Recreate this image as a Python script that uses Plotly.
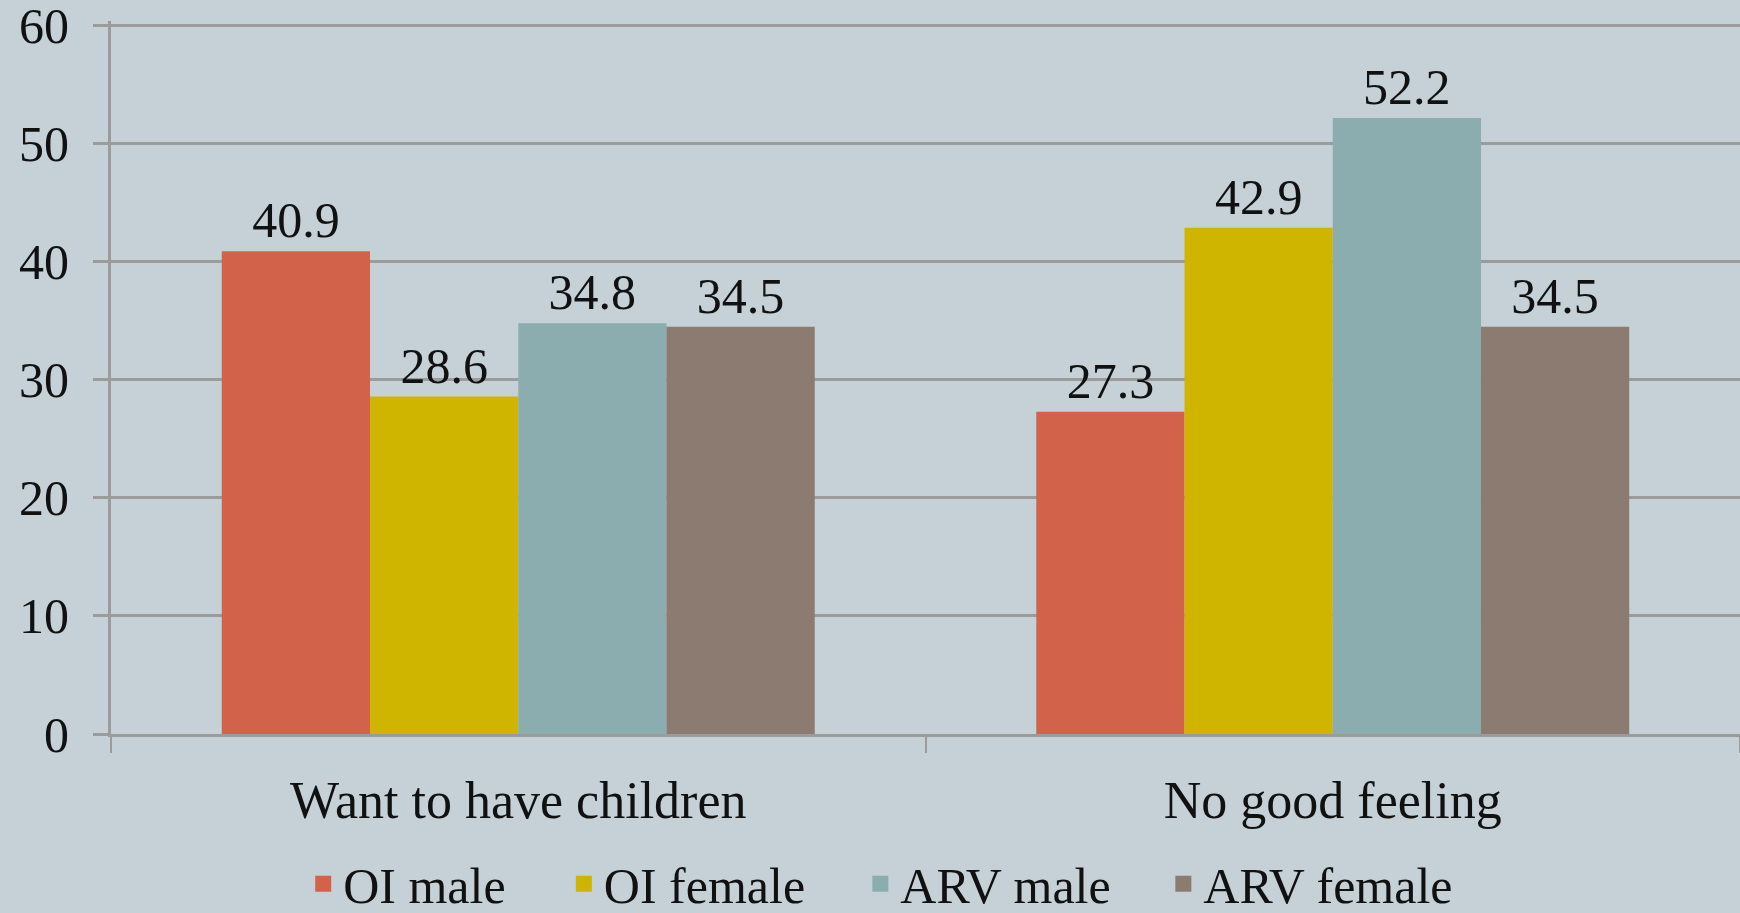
import plotly.graph_objects as go

categories = ["Want to have children", "No good feeling"]
series_names = ["OI male", "OI female", "ARV male", "ARV female"]
oi_male = [40.9, 27.3]
oi_female = [28.6, 42.9]
arv_male = [34.8, 52.2]
arv_female = [34.5, 34.5]
y_ticks = [0, 10, 20, 30, 40, 50, 60]

values = [oi_male, oi_female, arv_male, arv_female]
colors = ["#D2634A", "#CFB400", "#8BADAF", "#8C7B70"]
legend_ids = ["legend", "legend2", "legend3", "legend4"]
legend_x = [0.118, 0.278, 0.460, 0.646]

FONT = "Liberation Serif, DejaVu Serif, serif"
GRID = "#9B9B9B"
BG = "#C5D1D7"
TXT = "#111111"

fig = go.Figure()
for name, vals, col in zip(series_names, values, colors):
    fig.add_trace(go.Bar(
        x=categories, y=vals, name=name,
        marker=dict(color=col, line=dict(width=0)),
        text=[f"{v:.1f}" for v in vals],
        textposition="outside",
        textfont=dict(family=FONT, size=50, color=TXT),
        cliponaxis=False,
        showlegend=False,
    ))
# legend entries with larger square swatches, one legend box per entry
for name, col, lid in zip(series_names, colors, legend_ids):
    fig.add_trace(go.Scatter(
        x=[None], y=[None], mode="markers", name=name,
        marker=dict(symbol="square", size=24, color=col),
        showlegend=True, legend=lid,
    ))

legend_common = dict(
    orientation="h", xref="paper", xanchor="left",
    yref="container", y=0.032, yanchor="middle",
    font=dict(family=FONT, size=50, color=TXT),
    bgcolor="rgba(0,0,0,0)", itemwidth=30,
)
legend_layout = {lid: dict(x=lx, **legend_common) for lid, lx in zip(legend_ids, legend_x)}

fig.update_layout(
    width=1740, height=913,
    paper_bgcolor=BG, plot_bgcolor=BG,
    barmode="group", bargap=0.272, bargroupgap=0,
    margin=dict(l=111, r=0, t=21, b=179, autoexpand=False),
    font=dict(family=FONT, size=50, color=TXT),
    showlegend=True,
    xaxis=dict(
        showline=True, linecolor=GRID, linewidth=3,
        ticks="outside", tickson="boundaries", ticklen=16, tickcolor=GRID, tickwidth=2,
        tickfont=dict(family=FONT, size=52, color=TXT),
        showgrid=False, ticklabelstandoff=19, automargin=False,
    ),
    yaxis=dict(
        range=[0, 60.42], tickvals=y_ticks,
        showline=True, linecolor=GRID, linewidth=3,
        ticks="outside", ticklen=15, tickcolor=GRID, tickwidth=3,
        showgrid=True, gridcolor=GRID, gridwidth=3,
        zeroline=False, automargin=False,
        tickfont=dict(family=FONT, size=50, color=TXT),
        ticklabelstandoff=14, ticklabeloverflow="allow",
    ),
    **legend_layout,
)

fig.write_html("out.html", config={"displayModeBar": False},
               post_script="document.body.style.margin='0';document.body.style.overflow='hidden';")
